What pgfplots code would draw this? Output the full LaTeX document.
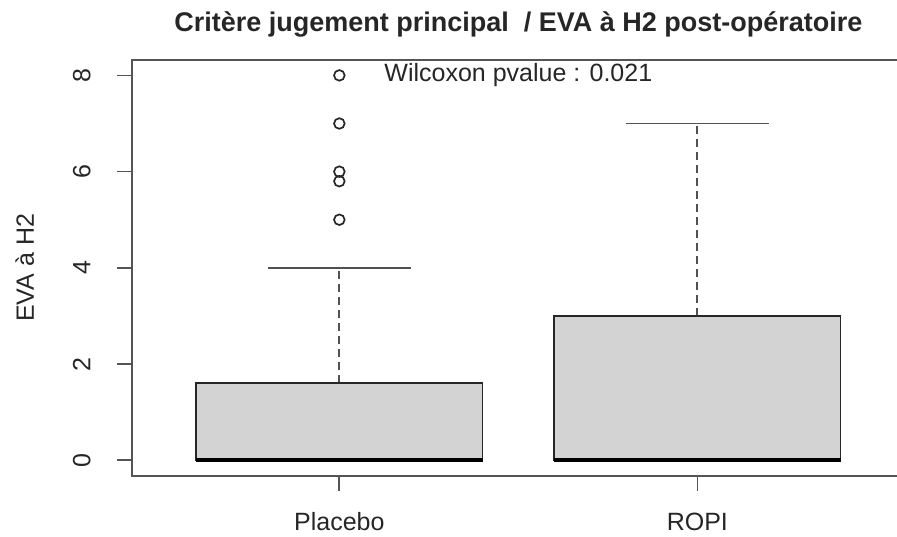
\documentclass[border=0pt]{standalone}
\usepackage{pgfplots}
\pgfplotsset{compat=1.18}
\usepgfplotslibrary{statistics}
\usepackage{fontspec}
\setmainfont{Liberation Sans}
\definecolor{boxfill}{HTML}{D3D3D3}
\definecolor{ink}{HTML}{262626}
\definecolor{axcol}{HTML}{555555}
\begin{document}
\begin{tikzpicture}
\begin{axis}[
  name=ax,
  scale only axis,
  width=773.3pt, height=415.7pt,
  xmin=0.42, xmax=2.58,
  ymin=-0.32, ymax=8.32,
  xtick={1,2}, xticklabels={Placebo,ROPI},
  ytick={0,2,4,6,8},
  tick align=outside,
  tick pos=left,
  major tick length=15pt,
  axis line style={line width=1.7pt, draw=axcol},
  every tick/.style={line width=1.7pt, draw=axcol},
  /pgf/number format/assume math mode=true,
  tick label style={font=\fontsize{25}{30}\selectfont, text=ink},
  xticklabel style={anchor=base, yshift=-40pt},
  yticklabel style={anchor=base, xshift=-26.3pt, rotate=90},
  clip=false,
  boxplot/draw direction=y,
]
\addplot[
  boxplot prepared={median=0, lower quartile=0, upper quartile=1.6,
    lower whisker=0, upper whisker=4, draw position=1,
    box extend=0.8, whisker extend=0.4},
  boxplot/every box/.style={fill=boxfill, draw=ink, line width=1.8pt},
  boxplot/every median/.style={draw=black, line width=4pt},
  boxplot/draw/lower whisker/.code={},
  boxplot/draw/upper whisker/.code={%
    \draw[ink!80, line width=1.8pt, dash pattern=on 8pt off 5pt]
      (boxplot box cs:\pgfplotsboxplotvalue{upper quartile},0.5) --
      (boxplot box cs:\pgfplotsboxplotvalue{upper whisker},0.5);
    \draw[ink!80, line width=1.8pt]
      (boxplot whisker cs:\pgfplotsboxplotvalue{upper whisker},0) --
      (boxplot whisker cs:\pgfplotsboxplotvalue{upper whisker},1);
  },
  draw=ink, mark=o, mark size=5.3pt, mark options={draw=ink, line width=1.7pt, solid},
] table[row sep=\\, y index=0] {y\\ 5\\ 5.8\\ 6\\ 7\\ 8\\};

\addplot[
  boxplot prepared={median=0, lower quartile=0, upper quartile=3,
    lower whisker=0, upper whisker=7, draw position=2,
    box extend=0.8, whisker extend=0.4},
  boxplot/every box/.style={fill=boxfill, draw=ink, line width=1.8pt},
  boxplot/every median/.style={draw=black, line width=4pt},
  boxplot/draw/lower whisker/.code={},
  boxplot/draw/upper whisker/.code={%
    \draw[ink!80, line width=1.8pt, dash pattern=on 8pt off 5pt]
      (boxplot box cs:\pgfplotsboxplotvalue{upper quartile},0.5) --
      (boxplot box cs:\pgfplotsboxplotvalue{upper whisker},0.5);
    \draw[ink!80, line width=1.8pt]
      (boxplot whisker cs:\pgfplotsboxplotvalue{upper whisker},0) --
      (boxplot whisker cs:\pgfplotsboxplotvalue{upper whisker},1);
  },
  draw=ink, mark=o, mark size=5.3pt, mark options={draw=ink, line width=1.7pt, solid},
] coordinates {};

\node[font=\fontsize{25}{30}\selectfont, text=ink, anchor=base]
  at ([yshift=-21.7pt]axis cs:1.5,8.32) {Wilcoxon pvalue : 0.021};
\node[font=\fontsize{27}{32}\selectfont\bfseries, text=ink, anchor=base]
  at ([yshift=28.3pt]axis cs:1.5,8.32) {Critère jugement principal\ \ / EVA à H2 post-opératoire};
\node[font=\fontsize{25}{30}\selectfont, text=ink, rotate=90, anchor=base]
  at ([xshift=-97.7pt]rel axis cs:0,0.5) {EVA à H2};
\end{axis}
\pgfresetboundingbox
\path[use as bounding box] ([xshift=-131.7pt, yshift=-60.3pt]ax.south west) rectangle ([xshift=765.3pt, yshift=60pt]ax.north west);
\end{tikzpicture}
\end{document}
